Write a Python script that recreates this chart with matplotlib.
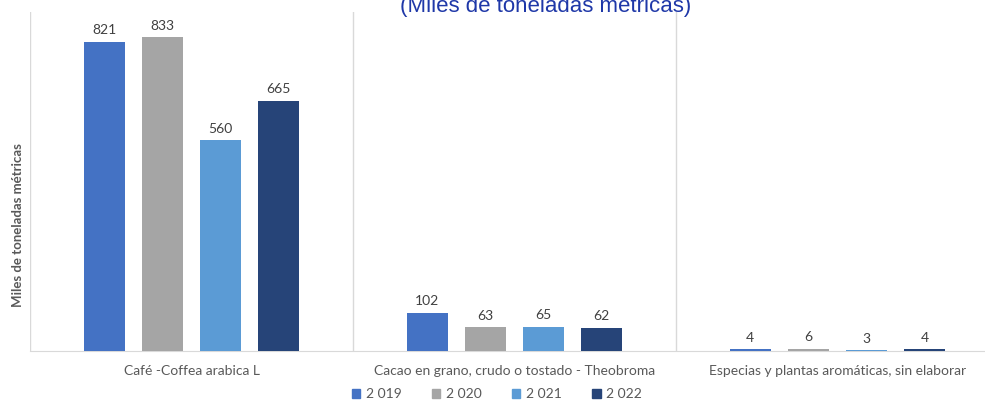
import matplotlib
matplotlib.use('Agg')
import matplotlib.pyplot as plt
import numpy as np
from matplotlib.patches import Patch

categories = ['Café -Coffea arabica L',
              'Cacao en grano, crudo o tostado - Theobroma',
              'Especias y plantas aromáticas, sin elaborar']
years = ['2 019', '2 020', '2 021', '2 022']
v2019 = [821, 102, 4]
v2020 = [833, 63, 6]
v2021 = [560, 65, 3]
v2022 = [665, 62, 4]
colors = ['#4472C4', '#A5A5A5', '#5B9BD5', '#264478']

plt.rcParams['font.family'] = ['Lato', 'DejaVu Sans']

fig = plt.figure(figsize=(9.85, 4.01), dpi=100)
ax = fig.add_axes([30 / 985, 1 - 351 / 401, 969 / 985, 339 / 401])

x = np.arange(len(categories))
step, width = 0.18, 0.127
series = [v2019, v2020, v2021, v2022]
for i, (vals, c) in enumerate(zip(series, colors)):
    pos = x + (i - 1.5) * step
    bars = ax.bar(pos, vals, width=width, color=c, zorder=3)
    for b, v in zip(bars, vals):
        ax.text(b.get_x() + b.get_width() / 2, v + 14, str(v), ha='center', va='bottom',
                fontsize=10, color='#404040')

ax.set_xlim(-0.5, 2.5)
ax.set_ylim(0, 900)
for s in ['top', 'right', 'left']:
    ax.spines[s].set_visible(False)
ax.spines['bottom'].set_color('#D9D9D9')
ax.set_yticks([])
ax.set_xticks(x)
ax.set_xticklabels(categories, fontsize=10, color='#595959')
ax.tick_params(axis='x', length=0, pad=10)
for b in [-0.5, 0.5, 1.5, 2.5]:
    ax.axvline(b, color='#D9D9D9', lw=1, zorder=1)

fig.text(18 / 985, 1 - 225 / 401, 'Miles de toneladas métricas', rotation=90,
         ha='center', va='center', fontsize=9.5, fontweight='bold', color='#595959')
fig.text(546 / 985, 1 - 12 / 401, '(Miles de toneladas métricas)', ha='center',
         va='baseline', fontsize=16, color='#1F38A8', family=['Liberation Sans'])

handles = [Patch(color=c) for c in colors]
fig.legend(handles, years, loc='center', bbox_to_anchor=(497 / 985, 1 - 394 / 401),
           ncol=4, frameon=False, fontsize=10, handlelength=0.6, handleheight=0.6,
           columnspacing=2.2, handletextpad=0.4, labelcolor='#595959')

fig.savefig('out.png', dpi=100)
